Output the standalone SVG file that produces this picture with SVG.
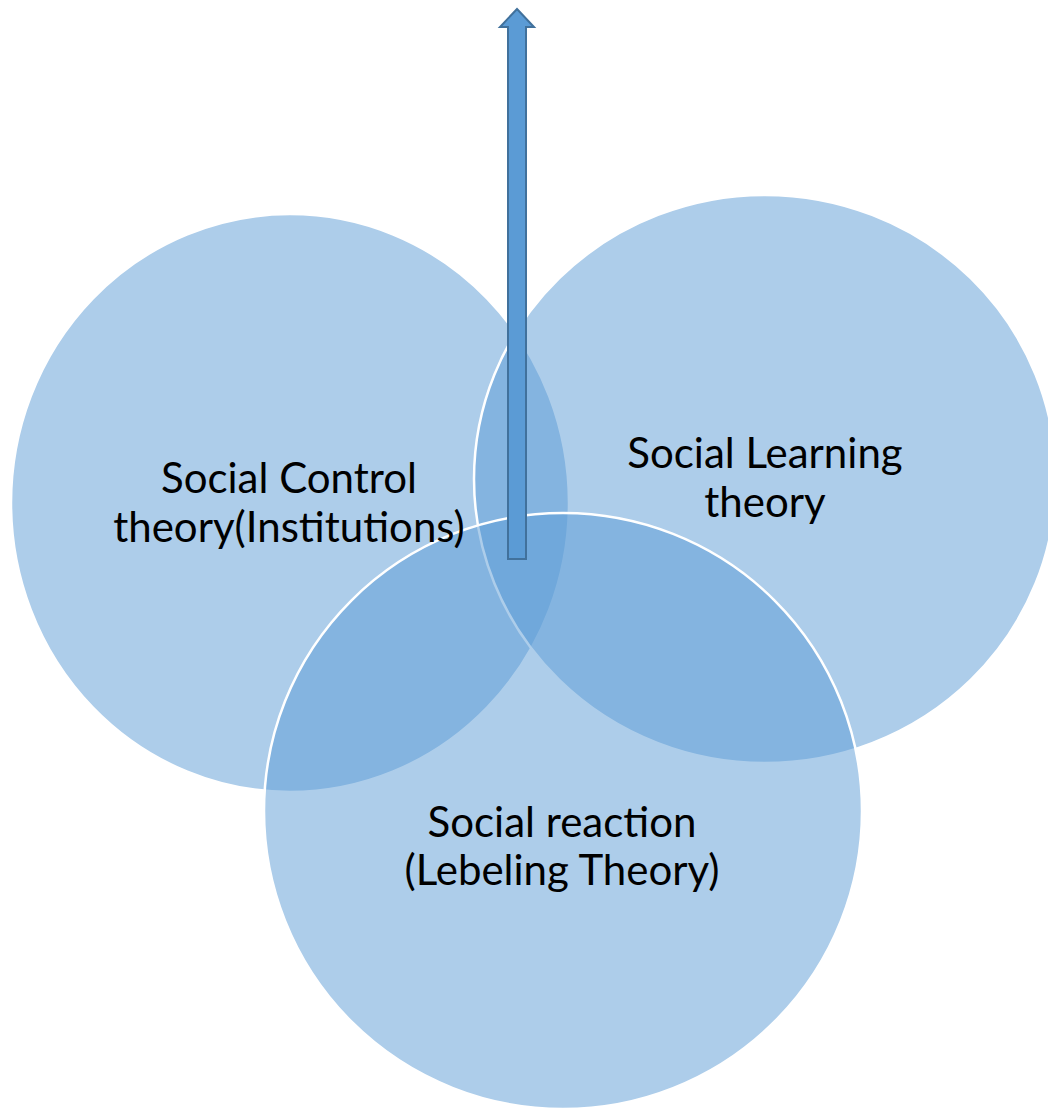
<svg xmlns="http://www.w3.org/2000/svg" width="1048" height="1110" viewBox="0 0 1048 1110">
  <style>
    .c { fill: #5B9BD5; fill-opacity: 0.5; stroke: #FFFFFF; stroke-width: 2.5; }
    .t { font-family: Lato, "Liberation Sans", sans-serif; font-size: 42px; fill: #000000; text-anchor: middle; }
    .arrow { fill: #5B9BD5; stroke: #41719C; stroke-width: 2; stroke-linejoin: miter; }
  </style>
  <rect width="1048" height="1110" fill="#FFFFFF"/>
  <g id="node-social-control">
    <ellipse class="c" cx="290" cy="503" rx="279" ry="289"/>
  </g>
  <g id="node-social-learning">
    <ellipse class="c" cx="765" cy="479" rx="291" ry="284"/>
  </g>
  <g id="node-social-reaction">
    <ellipse class="c" cx="563" cy="811" rx="299" ry="298"/>
  </g>
  <g id="connectors">
    <polygon class="arrow" points="517,9 534,27 526,27 526,559 508,559 508,27 500,27"/>
  </g>
  <g id="labels">
    <text class="t" x="289" y="493">Social Control</text>
    <text class="t" x="289" y="542">theory(Institutions)</text>
    <text class="t" x="765" y="468">Social Learning</text>
    <text class="t" x="765" y="517">theory</text>
    <text class="t" x="562" y="837">Social reaction</text>
    <text class="t" x="562" y="885">(Lebeling Theory)</text>
  </g>
</svg>
